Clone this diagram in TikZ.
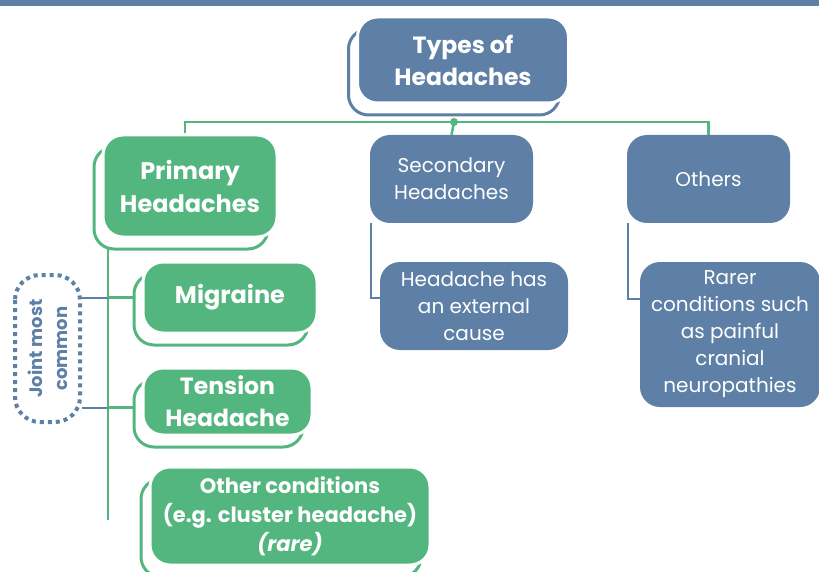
\documentclass[tikz,border=0pt]{standalone}
\usepackage{fontspec}
\setmainfont{Poppins}
\usetikzlibrary{shadows}
\usetikzlibrary{backgrounds}

\definecolor{hblue}{HTML}{5E80A6}
\definecolor{hgreen}{HTML}{53B67F}

\tikzset{
  box/.style={rounded corners=20pt, text=white, align=center, inner sep=2pt},
  stacked/.style={draw=white, line width=3pt,
    general shadow={shadow xshift=-9pt, shadow yshift=-12pt, fill=white, draw=#1, line width=3pt}},
  greenbox/.style={box, fill=hgreen, stacked=hgreen},
  bluebox/.style={box, fill=hblue},
  greenline/.style={draw=hgreen, line width=2.5pt},
  blueline/.style={draw=hblue, line width=2pt}
}

\begin{document}
\begin{tikzpicture}[x=1pt, y=-1pt]
\useasboundingbox (0,0) rectangle (819,572);
\fill[hblue] (0,0) rectangle (819,6);

% top of the tree
\node[bluebox, stacked=hblue, minimum width=211pt, minimum height=86pt,
  font=\bfseries\fontsize{23.5}{32}\selectfont] (types) at (463,60) {Types of\\Headaches};

% primary branch
\node[greenbox, minimum width=174pt, minimum height=102pt,
  font=\bfseries\fontsize{24}{33}\selectfont] (primary) at (190,186) {Primary\\Headaches};
\node[greenbox, minimum width=174pt, minimum height=71pt,
  font=\bfseries\fontsize{24}{30}\selectfont] (migraine) at (230,297.5) {Migraine};
\node[greenbox, minimum width=169pt, minimum height=67pt,
  font=\bfseries\fontsize{23.5}{32}\selectfont] (tension) at (227.5,401.5) {Tension\\Headache};
\node[greenbox, minimum width=280pt, minimum height=98pt,
  font=\bfseries\fontsize{21}{29}\selectfont] (othercond) at (290,516)
  {Other conditions\\(e.g. cluster headache)\\\textit{(rare)}};
\node[draw=hblue, line width=4pt, dash pattern=on 4pt off 4pt, rounded corners=25pt,
  rotate=90, minimum width=147pt, minimum height=65pt, text=hblue, align=center,
  font=\bfseries\fontsize{18}{25}\selectfont] (joint) at (47.5,348.5) {Joint most\\common};

% secondary branch
\node[bluebox, minimum width=163pt, minimum height=88pt,
  font=\fontsize{20}{27}\selectfont] (secondary) at (451.5,179) {Secondary\\Headaches};
\node[bluebox, minimum width=188pt, minimum height=88pt,
  font=\fontsize{20}{27}\selectfont] (extcause) at (474,306) {Headache has\\an external\\cause};

% others branch
\node[bluebox, minimum width=163pt, minimum height=88pt,
  font=\fontsize{20}{27}\selectfont] (others) at (708.5,179) {Others};
\node[bluebox, minimum width=180pt, minimum height=145pt,
  font=\fontsize{20}{27}\selectfont] (rarer) at (730,334.5)
  {Rarer\\conditions such\\as painful\\cranial\\neuropathies};

\coordinate (hub) at (454,122);
\coordinate (pend) at (108,520);
\coordinate (tbranch) at ([yshift=-6pt]tension.west);

\begin{scope}[on background layer]
\draw[greenline] ([xshift=-5pt]primary.north) |- (hub) -| (others.north);
\draw[greenline] (hub) -- (secondary.north);
\draw[greenline] (primary.south -| pend) -- (pend);
\draw[greenline] (migraine.west -| pend) -- (migraine.west);
\draw[greenline] (tbranch -| pend) -- (tbranch);
\draw[blueline] (joint.south |- migraine.west) -- (migraine.west -| pend);
\draw[blueline] (joint.south |- tbranch) -- (tbranch -| pend);
\draw[blueline] ([xshift=1pt]secondary.south west) |- ([yshift=8pt]extcause.west);
\draw[blueline] ([xshift=1pt]others.south west) |- ([yshift=36pt]rarer.west);
\end{scope}
\fill[hgreen] (hub) circle (4pt);
\end{tikzpicture}
\end{document}
